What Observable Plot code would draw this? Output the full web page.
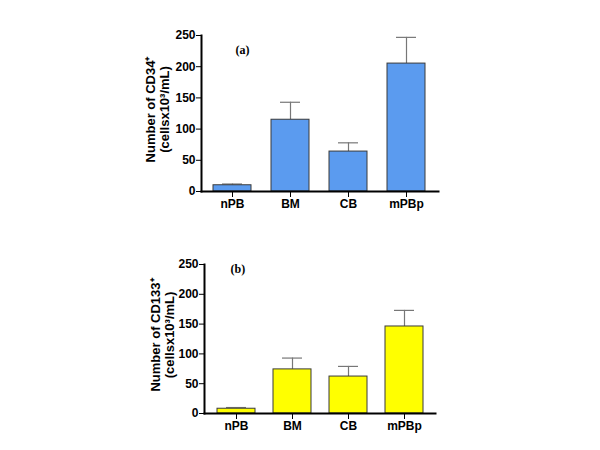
<!DOCTYPE html>
<html>
<head>
<meta charset="utf-8">
<script src="https://cdn.jsdelivr.net/npm/d3@7"></script>
<script src="https://cdn.jsdelivr.net/npm/@observablehq/plot@0.6"></script>
<style>
  body { margin: 0; background: #fff; }
  #chart { width: 600px; height: 450px; }
  #chart svg { display: block; }
</style>
</head>
<body>
<div id="chart"></div>
<script>
const categories = ["nPB", "BM", "CB", "mPBp"];
const cd34Mean = [10, 115, 64, 205];
const cd34Upper = [12, 143, 78, 247];
const cd133Mean = [8, 74, 62, 146];
const cd133Upper = [10, 93, 79, 173];
const yTicks = [0, 50, 100, 150, 200, 250];

function panel({means, uppers, fill, tag, label1, label2, m, labelDx, labelDy, tagDx, tagDy, padIn, padOut}) {
  const data = categories.map((c, i) => ({cat: c, mean: means[i], upper: uppers[i]}));
  return Plot.plot({
    width: 600,
    height: 225,
    marginTop: m.top,
    marginBottom: m.bottom,
    marginLeft: m.left,
    marginRight: m.right,
    style: {fontFamily: "Liberation Sans, Arial, sans-serif", fontWeight: "bold", fontSize: "12px", color: "#000", background: "#fff"},
    x: {domain: categories, paddingInner: padIn, paddingOuter: padOut, label: null, tickSize: 6, tickPadding: 2},
    y: {domain: [0, 250], ticks: yTicks, label: null, tickSize: 5, tickPadding: 1},
    marks: [
      Plot.ruleX(data, {x: "cat", y1: "mean", y2: "upper", stroke: "#777", strokeWidth: 1.2}),
      Plot.tickY(data, {x: "cat", y: "upper", stroke: "#777", strokeWidth: 1.2, insetLeft: 9, insetRight: 9}),
      Plot.barY(data, {x: "cat", y: "mean", fill: fill, stroke: "#3a3a3a", strokeWidth: 1}),
      Plot.frame({anchor: "left", stroke: "#000", strokeWidth: 2}),
      Plot.frame({anchor: "bottom", stroke: "#000", strokeWidth: 2}),
      Plot.text([label1 + "\n" + label2], {frameAnchor: "left", dx: labelDx, dy: labelDy, rotate: -90, fontSize: 13, fontWeight: "bold", lineHeight: 1.05, textAnchor: "middle", fill: "#000"}),
      Plot.text([tag], {frameAnchor: "top-left", dx: tagDx, dy: tagDy, fontFamily: "Liberation Serif, Times New Roman, serif", fontWeight: "bold", fontSize: 12, fill: "#000"})
    ]
  });
}

const chart = document.getElementById("chart");
chart.append(panel({
  means: cd34Mean, uppers: cd34Upper, fill: "#5b9bef", tag: "(a)",
  label1: "Number of CD34\u207A", label2: "(cellsx10\u00B3/mL)",
  m: {top: 35, bottom: 34, left: 201, right: 162},
  labelDx: -44, labelDy: -4, tagDx: 34, tagDy: 10, padIn: 0.337, padOut: 0.18
}));
chart.append(panel({
  means: cd133Mean, uppers: cd133Upper, fill: "#ffff00", tag: "(b)",
  label1: "Number of CD133\u207A", label2: "(cellsx10\u00B3/mL)",
  m: {top: 39, bottom: 37, left: 204, right: 165},
  labelDx: -42, labelDy: -4, tagDx: 26, tagDy: 0, padIn: 0.325, padOut: 0.19
}));
</script>
</body>
</html>
